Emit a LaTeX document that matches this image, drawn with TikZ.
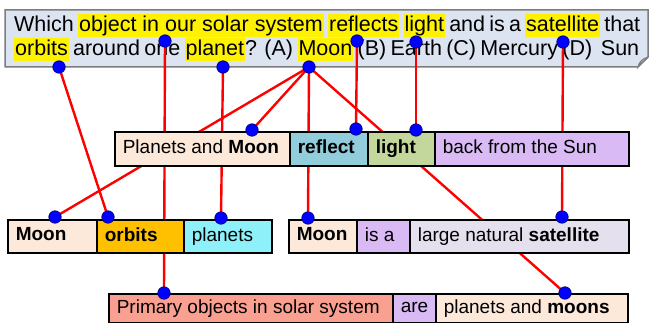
\documentclass[tikz,border=0pt]{standalone}
\usepackage{fontspec}
\setmainfont{Liberation Sans}
\definecolor{qfill}{RGB}{221,228,241}
\definecolor{qborder}{RGB}{125,125,125}
\definecolor{peach}{RGB}{253,233,217}
\definecolor{reflectc}{RGB}{146,205,220}
\definecolor{lightc}{RGB}{195,214,155}
\definecolor{lav}{RGB}{217,186,245}
\definecolor{orbitc}{RGB}{255,192,0}
\definecolor{planetc}{RGB}{142,241,250}
\definecolor{satc}{RGB}{228,224,238}
\definecolor{primc}{RGB}{250,160,145}
\definecolor{dotblue}{RGB}{0,0,255}
\definecolor{dotedge}{RGB}{0,0,110}
\definecolor{linkred}{RGB}{255,0,0}
\newcommand\segfont{\fontsize{19}{22}\selectfont}
\newcommand\qfont{\fontsize{21.5}{25}\selectfont}
\newcommand\sx[2]{\makebox[#1pt][l]{\rule[-4pt]{0pt}{16pt}#2}}
\newcommand\hlt[1]{{\setlength{\fboxsep}{0pt}\colorbox{yellow}{\rule[-5pt]{0pt}{23pt}\hspace{1pt}#1\hspace{1pt}}}}
\pgfdeclarelayer{qlayer}
\pgfdeclarelayer{lines}
\pgfdeclarelayer{dots}
\pgfsetlayers{qlayer,lines,main,dots}
\tikzset{
  seg/.style={draw=black, line width=1.6pt, anchor=north west, inner xsep=8pt, inner ysep=0pt, font=\segfont},
  bdot/.style={circle, fill=dotblue, draw=dotedge, line width=0.6pt, minimum size=12.5pt, inner sep=0pt},
  redlink/.style={draw=linkred, line width=2.4pt},
  qtext/.style={anchor=base west, inner sep=0pt, font=\qfont},
}
\begin{document}
\begin{tikzpicture}[x=1pt,y=-1pt]
\useasboundingbox (0,0) rectangle (649,323);
% question box
\begin{pgfonlayer}{qlayer}
  \path[fill=qfill, draw=qborder, line width=1.5pt]
    (5,10) -- (648,10) -- (648,57) -- (638,67) -- (5,67) -- cycle;
  \path[fill=qfill!70!gray, draw=qborder, line width=1pt]
    (638,67) .. controls (639,62) and (642,59) .. (648,57) .. controls (645,61) and (641,62) .. (638,67) -- cycle;
  \node[qtext] (q1) at (14,32) {\makebox[626pt][s]{Which \hlt{object in our solar system} \hlt{reflects} \hlt{light} and is a \hlt{satellite} that}};
  \node[qtext] (q2) at (14,56) {\makebox[625pt][s]{\hlt{orbits} around one \hlt{planet}? (A) \hlt{Moon} (B) Earth (C) Mercury (D)\ \ Sun}};
\end{pgfonlayer}
% row 1
\node[seg, fill=peach,    minimum height=34pt] (pm) at (114,131) {\sx{159}{Planets and \textbf{Moon}}};
\node[seg, fill=reflectc, minimum height=34pt] (rf) at (289,131) {\sx{62}{\textbf{reflect}}};
\node[seg, fill=lightc,   minimum height=34pt] (lt) at (367,131) {\sx{51}{\textbf{light}}};
\node[seg, fill=lav,      minimum height=34pt] (bs) at (434,131) {\sx{178}{back from the Sun}};
% row 2 left
\node[seg, fill=peach,   minimum height=33pt] (ml) at (7,219)   {\sx{73}{\textbf{Moon}}};
\node[seg, fill=orbitc,  minimum height=33pt] (ob) at (96,219)  {\sx{71}{\textbf{orbits}}};
\node[seg, fill=planetc, minimum height=33pt] (pl) at (183,219) {\sx{72}{planets}};
% row 2 middle
\node[seg, fill=peach, minimum height=33pt] (mm)  at (288,219) {\sx{52}{\textbf{Moon}}};
\node[seg, fill=lav,   minimum height=33pt] (isa) at (356,219) {\sx{37}{is a}};
\node[seg, fill=satc,  minimum height=33pt] (sat) at (409,219) {\sx{203}{large natural \textbf{satellite}}};
% row 3
\node[seg, fill=primc, minimum height=29pt] (pr)  at (108,293) {\sx{268}{Primary objects in solar system}};
\node[seg, fill=lav,   minimum height=29pt] (are) at (392,293) {\sx{27}{are}};
\node[seg, fill=peach, minimum height=29pt] (pam) at (435,293) {\sx{176}{planets and \textbf{moons}}};
% dots
\begin{pgfonlayer}{dots}
  \node[bdot] (qOrbits)    at (59,67)  {};
  \node[bdot] (qObject)    at (165,41) {};
  \node[bdot] (qPlanet)    at (223,67) {};
  \node[bdot] (qMoon)      at (309,67) {};
  \node[bdot] (qReflects)  at (357,41) {};
  \node[bdot] (qLight)     at (416,42) {};
  \node[bdot] (qSatellite) at (563,42) {};
  \node[bdot] (dPM)        at (252,130) {};
  \node[bdot] (dReflect)   at (356,129) {};
  \node[bdot] (dLight)     at (416,130) {};
  \node[bdot] (dMoonL)     at (55,217) {};
  \node[bdot] (dOrbits)    at (108,217) {};
  \node[bdot] (dPlanets)   at (221,218) {};
  \node[bdot] (dMoonM)     at (308,218) {};
  \node[bdot] (dSatellite) at (562,217) {};
  \node[bdot] (dPrimary)   at (164,293) {};
  \node[bdot] (dMoons)     at (565,293) {};
\end{pgfonlayer}
% connectors
\begin{pgfonlayer}{lines}
  \draw[redlink] (qOrbits.center) -- (dOrbits.center);
  \draw[redlink] (qObject.center) -- (dPrimary.center);
  \draw[redlink] (qPlanet.center) -- (dPlanets.center);
  \draw[redlink] (qMoon.center) -- (dMoonL.center);
  \draw[redlink] (qMoon.center) -- (dPM.center);
  \draw[redlink] (qMoon.center) -- (dMoonM.center);
  \draw[redlink] (qMoon.center) -- (dMoons.center);
  \draw[redlink] (qReflects.center) -- (dReflect.center);
  \draw[redlink] (qLight.center) -- (dLight.center);
  \draw[redlink] (qSatellite.center) -- (dSatellite.center);
\end{pgfonlayer}
\end{tikzpicture}
\end{document}
